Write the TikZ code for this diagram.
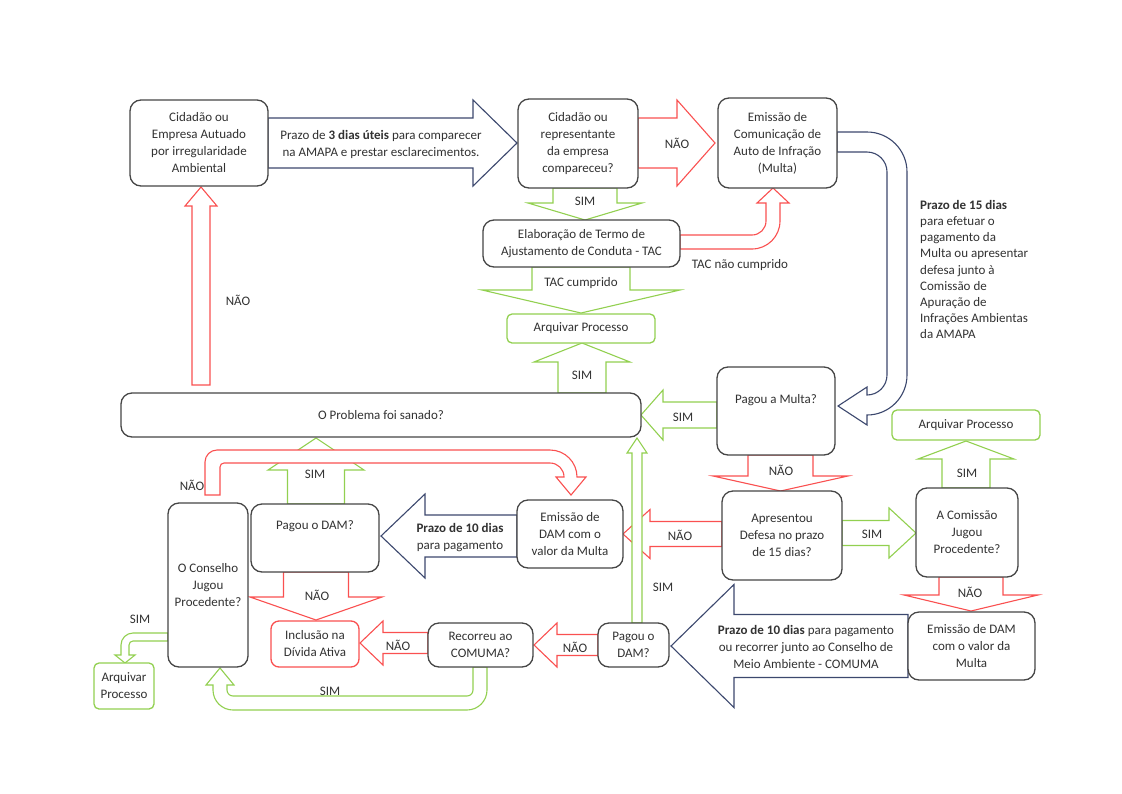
\documentclass[tikz,border=0pt]{standalone}
\usepackage{fontspec}
\setmainfont{Carlito}
\definecolor{boxgray}{RGB}{70,70,70}
\definecolor{txt}{RGB}{50,50,50}
\definecolor{redarr}{RGB}{250,80,80}
\definecolor{grnarr}{RGB}{146,208,80}
\definecolor{bluarr}{RGB}{60,72,110}
\newcommand\blockH[7]{%
 \draw[#1] ({#2},{#4-#5}) -- ({#7},{#4-#5}) -- ({#7},{#4-#6}) -- ({#3},{#4}) -- ({#7},{#4+#6}) -- ({#7},{#4+#5}) -- ({#2},{#4+#5}) -- cycle;}
\newcommand\blockV[7]{%
 \draw[#1] ({#2-#5},{#3}) -- ({#2-#5},{#7}) -- ({#2-#6},{#7}) -- ({#2},{#4}) -- ({#2+#6},{#7}) -- ({#2+#5},{#7}) -- ({#2+#5},{#3}) -- cycle;}
\tikzset{
  ra/.style={draw=redarr,line width=1.1pt,fill=white,line join=miter},
  ga/.style={draw=grnarr,line width=1.1pt,fill=white,line join=miter},
  ba/.style={draw=bluarr,line width=1.1pt,fill=white,line join=miter},
  fnt/.style={font=\fontsize{13}{17}\selectfont,text=txt},
  box/.style={fnt,draw=boxgray,line width=1.3pt,rounded corners=11pt,fill=white,align=center,inner sep=1pt},
  gbox/.style={box,draw=grnarr,rounded corners=5pt},
  rbox/.style={box,draw=redarr,rounded corners=8pt},
  lbl/.style={fnt,inner sep=0pt},
}
\begin{document}
\begin{tikzpicture}[x=1pt,y=-1pt]
\useasboundingbox[fill=white] (0,0) rectangle (1122,793);
% ---------- straight block arrows
\blockH{ba}{268}{517}{143}{25}{43}{473}
\blockH{ra}{638}{715}{143}{25}{43}{677}
\blockV{ga}{585}{188}{220}{32}{57}{203}
\blockV{ga}{581}{267}{313}{49}{99}{290}
\blockV{ga}{582}{393}{343}{24}{48}{362}
\blockV{ra}{201}{385}{187}{9}{16}{206}
\blockH{ga}{717}{641}{415}{13}{25}{663}
\blockV{ra}{780.5}{455}{491}{32.5}{67.5}{476}
\blockV{ga}{966}{488}{441}{24}{48}{459}
\blockH{ra}{722}{623}{534}{12.5}{24.5}{650}
\blockH{ga}{842}{916}{533}{12.5}{25}{889}
\blockV{ra}{971}{577}{611}{32}{67}{595}
\blockH{ba}{908}{671}{646}{31.5}{61.5}{734}
\blockV{ga}{637}{623}{438}{5}{10}{453}
\blockH{ra}{598}{534}{645}{10.5}{22}{557}
\blockH{ra}{428}{360}{643}{10.5}{22}{383}
\blockV{ra}{316}{572}{620}{32.5}{66}{597}
\blockV{ga}{316}{504}{438}{28.5}{48}{470}
\blockH{ba}{517}{381}{536}{21}{42}{425}
% ---------- curved block arrows
\draw[ba] (837,132) -- (867,132) arc[start angle=-90,end angle=0,radius=40]
  -- (907,375) arc[start angle=0,end angle=90,radius=40]
  -- (867,425) -- (838,406) -- (867,387) -- (867,395)
  arc[start angle=90,end angle=0,radius=20] -- (887,172)
  arc[start angle=0,end angle=-90,radius=20] -- (837,152) -- cycle;
\draw[ra] (680,235) -- (752,235) arc[start angle=90,end angle=0,radius=14]
  -- (766,203) -- (757,203) -- (773,188) -- (789,203) -- (780,203) -- (780,221)
  arc[start angle=0,end angle=90,radius=28] -- (680,249) -- cycle;
\draw[ra] (205,495) -- (205,462) arc[start angle=180,end angle=270,radius=12]
  -- (550,450) arc[start angle=-90,end angle=0,radius=27]
  -- (586,477) -- (571,495) -- (556,477) -- (564,477)
  arc[start angle=0,end angle=-90,radius=14] -- (224,463)
  arc[start angle=270,end angle=180,radius=4] -- (220,495) -- cycle;
\draw[ga] (168,633) -- (133,633) arc[start angle=270,end angle=180,radius=12]
  -- (121,655) -- (115,655) -- (125,663) -- (135,655) -- (129,655) -- (129,645)
  arc[start angle=180,end angle=270,radius=4] -- (168,641) -- cycle;
\draw[ga] (487,667) -- (487,690) arc[start angle=0,end angle=90,radius=20]
  -- (233,710) arc[start angle=90,end angle=180,radius=20]
  -- (213,685) -- (206,685) -- (220,668) -- (234,685) -- (227,685) -- (227,690)
  arc[start angle=180,end angle=90,radius=6] -- (467,696)
  arc[start angle=90,end angle=0,radius=6] -- (473,667) -- cycle;
% ---------- boxes
\node[box,minimum width=138pt,minimum height=86pt] (cid) at (199,143) {Cidadão ou\\Empresa Autuado\\por irregularidade\\Ambiental};
\node[box,minimum width=120pt,minimum height=89pt] (comp) at (578,143.5) {Cidadão ou\\representante\\da empresa\\compareceu?};
\node[box,minimum width=119pt,minimum height=90pt] (emi) at (777.5,143) {Emissão de\\Comunicação de\\Auto de Infração\\(Multa)};
\node[box,minimum width=197pt,minimum height=47pt] (tac) at (581.5,243.5) {Elaboração de Termo de\\Ajustamento de Conduta - TAC};
\node[gbox,minimum width=148pt,minimum height=29pt] (arq1) at (581,328.5) {Arquivar Processo};
\node[box,minimum width=520pt,minimum height=44pt] (prob) at (381,415) {O Problema foi sanado?};
\node[box,minimum width=118pt,minimum height=88pt] (pm) at (776,411) {Pagou a Multa?\\[8pt]};
\node[gbox,minimum width=148pt,minimum height=30pt] (arq2) at (966,425) {Arquivar Processo};
\node[box,minimum width=120pt,minimum height=89pt] (apr) at (782,535.5) {Apresentou\\Defesa no prazo\\de 15 dias?};
\node[box,minimum width=102pt,minimum height=89pt] (cjp) at (967,532.5) {A Comissão\\Jugou\\Procedente?};
\node[box,minimum width=127pt,minimum height=68pt] (dam2) at (971.5,646) {Emissão de DAM\\com o valor da\\Multa};
\node[box,minimum width=71pt,minimum height=44pt] (pd2) at (633.5,645) {Pagou o\\DAM?};
\node[box,minimum width=105pt,minimum height=44pt] (rec) at (480.5,645) {Recorreu ao\\COMUMA?};
\node[rbox,minimum width=88pt,minimum height=46pt] (inc) at (315,644) {Inclusão na\\Dívida Ativa};
\node[box,minimum width=128pt,minimum height=68pt] (pd1) at (315,538) {Pagou o DAM?\\[8pt]};
\node[box,minimum width=106pt,minimum height=68pt] (dam1) at (570,534) {Emissão de\\DAM com o\\valor da Multa};
\node[box,minimum width=80pt,minimum height=164pt] (cons) at (208,585) {O Conselho\\Jugou\\Procedente?};
\node[gbox,minimum width=60pt,minimum height=46pt] (arq3) at (124,686) {Arquivar\\Processo};
% ---------- texts on arrows
\node[lbl,align=center] (t3) at (381,144) {Prazo de \textbf{3 dias úteis} para comparecer\\na AMAPA e prestar esclarecimentos.};
\node[lbl] (l1) at (585,201) {SIM};
\node[lbl] (l2) at (677,143) {NÃO};
\node[lbl] (l3) at (581,283) {TAC cumprido};
\node[lbl] (l4) at (740,265) {TAC não cumprido};
\node[lbl] (l5) at (582,375) {SIM};
\node[lbl] (l6) at (238,300) {NÃO};
\node[lbl] (l7) at (683,417) {SIM};
\node[lbl] (l8) at (781,470) {NÃO};
\node[lbl] (l9) at (967,473) {SIM};
\node[lbl] (l10) at (680,535) {NÃO};
\node[lbl] (l11) at (872,534) {SIM};
\node[lbl] (l12) at (970,592) {NÃO};
\node[lbl] (l13) at (663,587) {SIM};
\node[lbl] (l14) at (575,647) {NÃO};
\node[lbl] (l15) at (398,645) {NÃO};
\node[lbl] (l16) at (317,595) {NÃO};
\node[lbl] (l17) at (315,474) {SIM};
\node[lbl] (l18) at (192,485) {NÃO};
\node[lbl] (l19) at (140,619) {SIM};
\node[lbl] (l20) at (330,691) {SIM};
\node[lbl,align=center] (t10a) at (460,538) {\textbf{Prazo de 10 dias}\\para pagamento};
\node[lbl,align=center] (t10b) at (806,647) {\textbf{Prazo de 10 dias} para pagamento\\ou recorrer junto ao Conselho de\\Meio Ambiente - COMUMA};
\node[lbl,anchor=north west,align=left,font=\fontsize{13}{16.2}\selectfont] (t15) at (920,200) {\textbf{Prazo de 15 dias}\\para efetuar o\\pagamento da\\Multa ou apresentar\\defesa junto à\\Comissão de\\Apuração de\\Infrações Ambientas\\da AMAPA};
\end{tikzpicture}
\end{document}
